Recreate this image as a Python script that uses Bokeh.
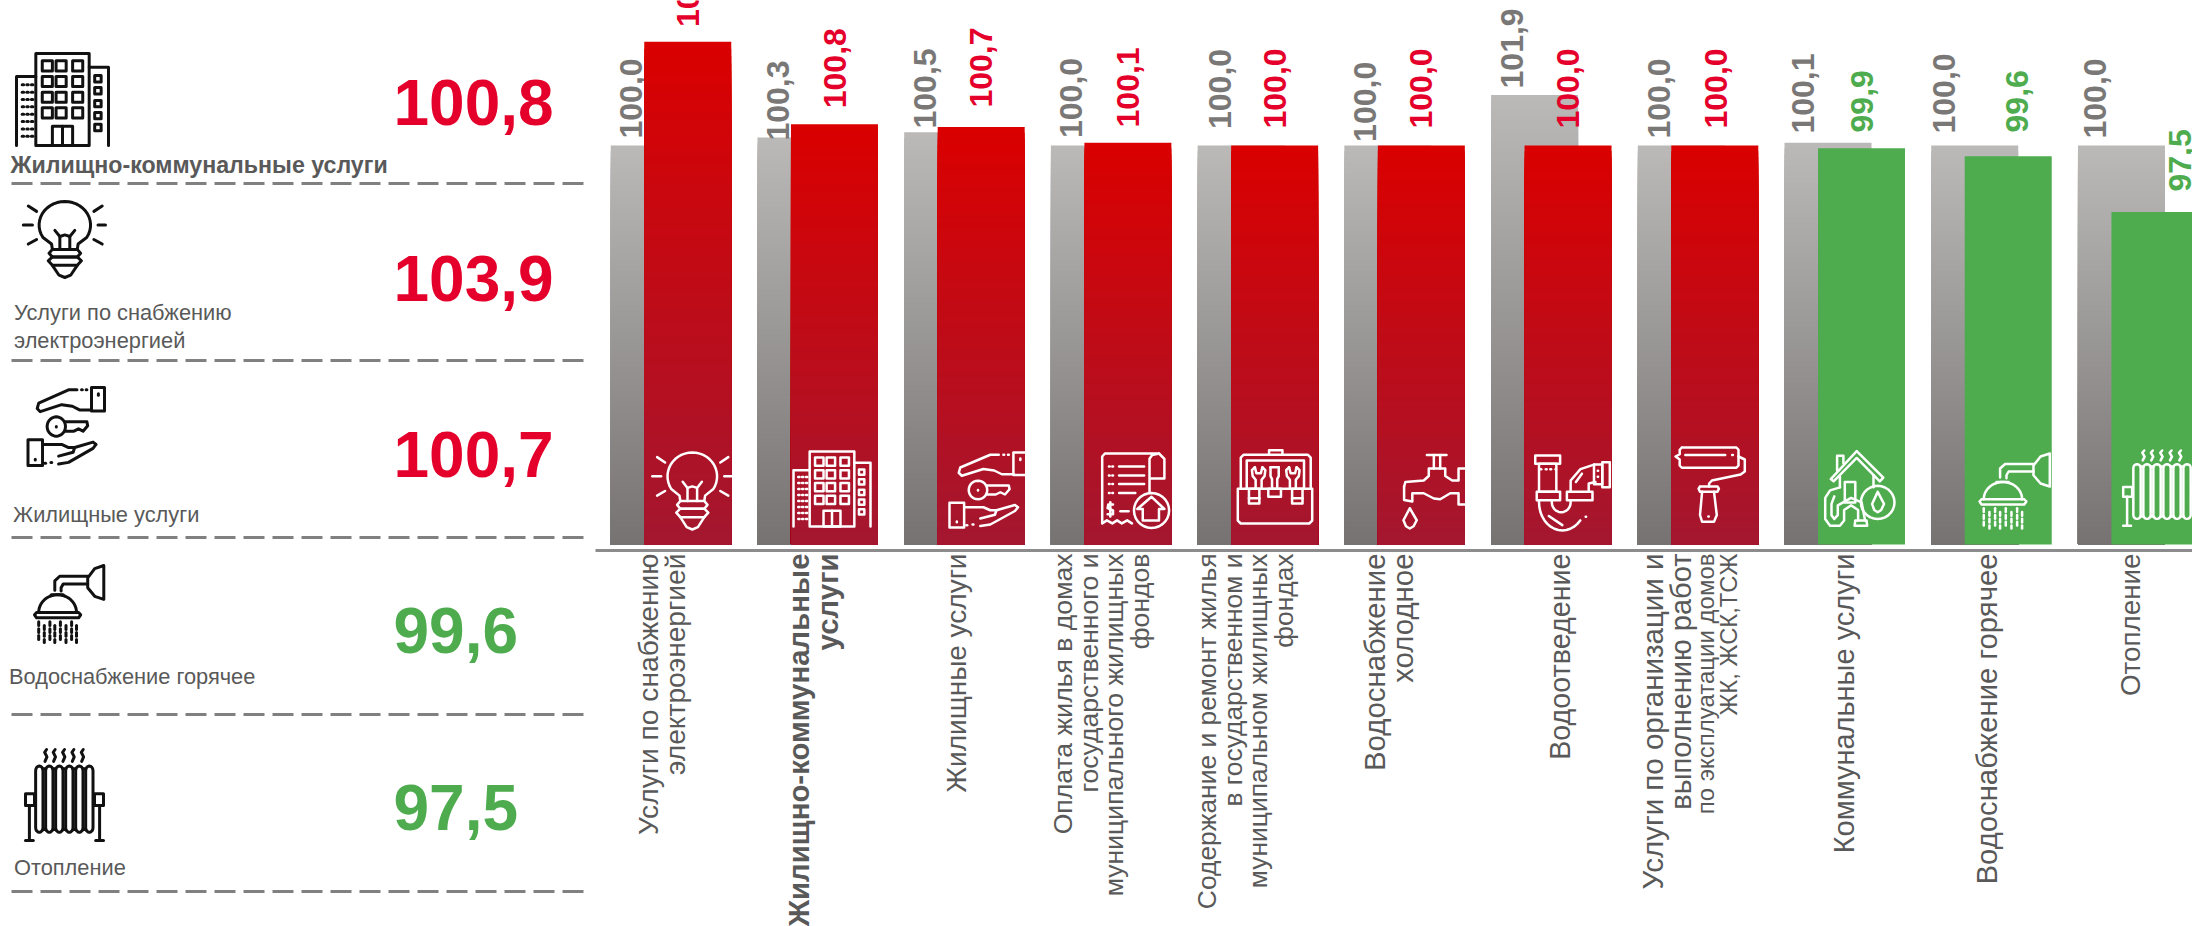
import math
from bokeh.plotting import figure
from bokeh.models import Range1d, ColumnDataSource
from bokeh.core.properties import value
from bokeh.embed import file_html
from bokeh.resources import INLINE

# ---------- data ----------
prev_values = [100.0, 100.3, 100.5, 100.0, 100.0, 100.0, 101.9, 100.0, 100.1, 100.0, 100.0]
curr_values = [103.9, 100.8, 100.7, 100.1, 100.0, 100.0, 100.0, 100.0, 99.9, 99.6, 97.5]
prev_labels = ["100,0", "100,3", "100,5", "100,0", "100,0", "100,0", "101,9", "100,0", "100,1", "100,0", "100,0"]
curr_labels = ["103,9", "100,8", "100,7", "100,1", "100,0", "100,0", "100,0", "100,0", "99,9", "99,6", "97,5"]
cat_lines = [
    ["Услуги по снабжению", "электроэнергией"],
    ["Жилищно-коммунальные", "услуги"],
    ["Жилищные услуги"],
    ["Оплата жилья в домах", "государственного и", "муниципального жилищных", "фондов"],
    ["Содержание и ремонт жилья", "в государственном и", "муниципальном жилищных", "фондах"],
    ["Водоснабжение", "холодное"],
    ["Водоотведение"],
    ["Услуги по организации и", "выполнению работ", "по эксплуатации домов", "ЖК, ЖСК,ТСЖ"],
    ["Коммунальные услуги"],
    ["Водоснабжение горячее"],
    ["Отопление"],
]
panel_names = [["Жилищно-коммунальные услуги"], ["Услуги по снабжению", "электроэнергией"], ["Жилищные услуги"], ["Водоснабжение горячее"], ["Отопление"]]
panel_values = ["100,8", "103,9", "100,7", "99,6", "97,5"]

# ---------- layout / style ----------
W, H = 2192, 926
BASE, PX100, PX_PER = 85.0, 145.0, 26.6
BASE_PX = 544.0
CAT0, CAT_STEP = 670.5, 146.72
RED, GREEN, TXT = "#E4002B", "#4EAC4F", "#595959"
GREY_LBL = "#7A7877"
FONT = value("Liberation Sans")
BASELINE_K = 0.36

prev_gap = [7, -3, 3.7, 7.5, 16.5, 3.6, 6.5, 7, 9.3, 12, 7]
prev_dx = [-23.5, -22.5, -23, -23.5, -21, -22.5, -22.5, -22.5, -25.5, -31, -26]
curr_gap = [14.7, 16, 19.3, 15.4, 17, 17, 17, 17, 15.7, 23.7, 20.5]
curr_dx = [0, 1, 0, 0, 0, 0, 0, 1, 0, 9, 25]

cat_base = [[658, 685], [809, 837.5], [966.5], [1072, 1098, 1123, 1149], [1216.5, 1242, 1267.5, 1293],
            [1385, 1413], [1569.6], [1663, 1691, 1714, 1737], [1854], [1997], [2140]]
cat_size = [[28.2, 28.2], [29.4, 29.4], [28], [26.6, 26.6, 26.6, 26.6], [26.4, 26.4, 26.4, 26.4], [29.4, 29.4], [28.7], [29.5, 29, 24, 23.8], [29], [29.3], [27.8]]
cat_bold = [False, True] + [False] * 9

p = figure(width=W, height=H, output_backend="svg", toolbar_location=None,
           x_axis_type=None, y_axis_type=None,
           x_range=Range1d(-CAT0 / CAT_STEP, (W - CAT0) / CAT_STEP),
           y_range=Range1d(BASE - (H - BASE_PX) / PX_PER, BASE + BASE_PX / PX_PER),
           min_border=0, outline_line_color=None, background_fill_color="white",
           margin=(0, 0, 0, 0))
p.grid.visible = False
p.extra_x_ranges["px"] = Range1d(0, W)
p.extra_y_ranges["px"] = Range1d(H, 0)
PX = dict(x_range_name="px", y_range_name="px")


def lerp(a, b, t):
    return "#%02x%02x%02x" % tuple(round(a[i] + (b[i] - a[i]) * t) for i in range(3))


def gradient_bars(idx, vals, dodge, top_c, bot_c, n=70):
    xs, tops, cols = [], [], []
    for k in range(n, 0, -1):
        f = k / n
        for i, v in zip(idx, vals):
            xs.append(i + dodge)
            tops.append(BASE + (v - BASE) * f)
            cols.append(lerp(bot_c, top_c, f))
    p.vbar(x=xs, top=tops, bottom=BASE, width=87 / CAT_STEP, fill_color=cols, line_color=None)


DODGE = 16.75 / CAT_STEP
idx = list(range(len(prev_values)))
gradient_bars(idx, prev_values, -DODGE, (186, 185, 183), (118, 114, 113))


def bar_labels(vals, labels, dodge, gaps, dxs, colors):
    src = ColumnDataSource(dict(x=[i + dodge for i in range(len(vals))], y=vals, t=labels,
                                xo=dxs, yo=[-g for g in gaps], c=colors))
    p.text("x", "y", text="t", x_offset="xo", y_offset="yo", source=src, angle=math.pi / 2,
           text_color="c", text_font=FONT, text_font_style="bold", text_font_size=value("32px"),
           text_align="left", text_baseline="middle")


bar_labels(prev_values, prev_labels, -DODGE, prev_gap, prev_dx, [GREY_LBL] * 11)

red_idx = [i for i, v in enumerate(curr_values) if v >= 100]
green_idx = [i for i, v in enumerate(curr_values) if v < 100]
gradient_bars(red_idx, [curr_values[i] for i in red_idx], DODGE, (218, 0, 0), (163, 23, 48))
p.vbar(x=[i + DODGE for i in green_idx], top=[curr_values[i] for i in green_idx], bottom=BASE,
       width=87 / CAT_STEP, fill_color=GREEN, line_color=None)
bar_labels(curr_values, curr_labels, DODGE, curr_gap, curr_dx,
           [RED if v >= 100 else GREEN for v in curr_values])

# axis line
p.segment([595], [550], [W], [550], line_color="#8C8C8C", line_width=3, **PX)

# category labels
for lines, bases, sizes, bold in zip(cat_lines, cat_base, cat_size, cat_bold):
    for t, b, s in zip(lines, bases, sizes):
        p.text([b - BASELINE_K * s], [553], text=[t], angle=math.pi / 2, text_color=TXT, text_font=FONT,
               text_font_style="bold" if bold else "normal", text_font_size=value(f"{s}px"),
               text_align="right", text_baseline="alphabetic", **PX)

# left panel
for y in [183, 360, 537, 714, 891]:
    p.segment([11], [y], [587], [y], line_color="#808080", line_width=3, line_dash="21 8", **PX)
val_pos = [(393, 125), (393, 301), (393, 477), (393, 653), (393, 830)]
for t, (x, y) in zip(panel_values, val_pos):
    c = GREEN if t.startswith("9") else RED
    p.text([x], [y - BASELINE_K * 64], text=[t], text_color=c, text_font=FONT, text_font_style="bold",
           text_font_size=value("64px"), text_baseline="alphabetic", **PX)
name_pos = [[(10, 173)], [(13.5, 320), (13.5, 348)], [(12.5, 522)], [(8.5, 684)], [(13.5, 875)]]
for i, (lines, pos) in enumerate(zip(panel_names, name_pos)):
    s = 23.2 if i == 0 else 21.8
    for t, (x, y) in zip(lines, pos):
        p.text([x], [y - BASELINE_K * s], text=[t], text_color=TXT, text_font=FONT,
               text_font_style="bold" if i == 0 else "normal",
               text_font_size=value(f"{s}px"), text_baseline="alphabetic", **PX)


# ---------- icons (outline shapes, in a 0..100 box) ----------
def rect(x0, y0, x1, y1):
    return [(x0, y0), (x1, y0), (x1, y1), (x0, y1), (x0, y0)]


def ell(cx, cy, rx, ry, a0=0, a1=360, n=28):
    return [(cx + rx * math.cos(math.radians(a0 + (a1 - a0) * j / n)),
             cy + ry * math.sin(math.radians(a0 + (a1 - a0) * j / n))) for j in range(n + 1)]


def building():
    o = [rect(21, 0, 79, 100), [(21, 25), (0, 25), (0, 100)], [(79, 15), (100, 15), (100, 100)]]
    for y in (8, 25, 42, 59):
        for x in (28, 43, 61):
            o.append(rect(x, y, x + 11, y + 11))
    o += [rect(39, 79, 61, 100), [(50, 79), (50, 100)]]
    for y in (24, 37, 51, 64, 77):
        o.append(rect(85, y, 92, y + 7))
    for y in (34, 42, 50, 58, 66, 74, 82, 90):
        for x in (7, 12, 17):
            o.append([(x - .8, y), (x + .8, y)])
    return o


def bulb():
    o = [[(36, 63), (35, 56)] + ell(51, 31, 31, 31, 148, 392) + [(67, 56), (66, 63)]]
    o += [[(36, 63), (66, 63), (70, 68), (66, 73), (36, 73), (32, 68), (36, 63)],
          [(36, 73), (66, 73), (71, 78), (66, 84), (36, 84), (31, 78), (36, 73)],
          [(36, 84), (44, 97), (51, 100), (58, 97), (66, 84)],
          [(39, 38), (45, 46), (45, 63)], [(63, 38), (57, 46), (57, 63)], [(45, 46), (51, 44), (57, 46)]]
    o += [[(1, 31), (12, 31)], [(91, 31), (100, 31)], [(7, 6), (17, 13)], [(86, 13), (96, 6)],
          [(7, 56), (17, 50)], [(86, 50), (96, 56)]]
    return o


def hands():
    return [[(100, 0), (83, 0), (83, 30), (100, 30), (100, 0)], [(92, 8), (92, 10)],
            [(83, 29), (68, 29), (58, 24), (44, 22), (16, 31), (12, 27), (14, 20), (53, 3), (64, 3)], [(70, 3), (71, 3)], [(76, 3), (77, 3)],
            ell(37, 50, 12, 12.4), [(37, 50), (37, 50.5)],
            [(49, 44), (77, 44), (78, 49), (72, 56), (66, 53), (60, 56), (55, 56), (49, 56)],
            rect(0, 67, 19, 100), [(9.5, 92), (9.5, 93)],
            [(19, 73), (44, 73), (53, 77), (61, 77), (85, 70), (89, 73), (85, 78), (53, 96), (40, 98)],
            [(40, 88), (59, 83), (61, 77)], [(30, 96), (31, 96)], [(22, 97), (23, 97)]]


def shower():
    o = [[(99, 0), (86, 4), (76, 16), (76, 29), (86, 40), (99, 44), (99, 0)],
         [(76, 14), (36, 14), (29, 20), (29, 32)], [(76, 24), (41, 24), (38, 29), (38, 33)],
         [(24, 38), (41, 38)], ell(33, 61, 27, 23, 180, 360),
         [(3, 61), (63, 61), (66, 64), (63, 68), (3, 68), (0, 64), (3, 61)]]
    for c, x in enumerate((6, 14, 22, 29, 37, 45, 53, 60)):
        d = 73 if c % 2 == 0 else 78
        while d < 99:
            o.append([(x, d), (x, min(d + 5, 100))])
            d += 9
    return o


def radiator():
    o = []
    for x in (26, 37, 49, 61, 73):
        o.append([(x + 1, 0), (x - 1.5, 3), (x + 1.5, 8), (x - 1, 13)])
    for k in range(6):
        x = 13 + k * 12.83
        o.append(ell(x + 4.7, 23, 4.7, 5, 180, 360, 8) + ell(x + 4.7, 85, 4.7, 5, 0, 180, 8) + [(x, 23)])
        if k < 5:
            o.append([(x + 9.4, 21), (x + 12.83, 21)])
            o.append([(x + 9.4, 87), (x + 12.83, 87)])
    o += [rect(0, 48, 11.5, 61), rect(88.5, 48, 100, 61), [(5, 61), (5, 99)], [(95, 61), (95, 99)],
          [(0, 99), (10, 99)], [(90, 99), (100, 99)]]
    return o


def document():
    o = [[(70, 51), (70, 7), (74, 2), (84, 0), (4, 0), (0, 4), (0, 92), (7, 88), (15, 92), (22, 88), (29, 92), (37, 88), (44, 92)],
         [(84, 0), (92, 7), (92, 33), (71, 33)],
         ell(73, 75, 26, 23), [(52, 73), (73, 57), (92, 73), (84, 73), (84, 88), (60, 88), (60, 73), (52, 73)]]
    for y in (17, 29, 40, 52):
        o += [[(10, y), (11, y)], [(15, y), (16, y)], [(25, y), (49 if y == 52 else 62, y)]]
    o += [[(16, 67), (9, 67), (8, 72), (16, 75), (16, 80), (8, 80)], [(12, 64), (12, 83)], [(27, 76), (39, 76)]]
    return o


def toolbox():
    o = [[(42, 7), (42, 1), (60, 1), (60, 7)], [(4, 53), (4, 11), (8, 7), (94, 7), (98, 11), (98, 53)],
         [(12, 53), (12, 15), (89, 15), (89, 53)],
         [(0, 53), (100, 53), (100, 96), (96, 100), (4, 100), (0, 96), (0, 53)]]
    for x, cx in ((28, 22), (74, 80)):
        o += [[(x - 5, 24), (x - 9, 28), (x - 8, 36), (x - 4, 41), (x - 4, 53)], [(x + 4, 53), (x + 4, 41), (x + 8, 36), (x + 9, 28), (x + 5, 24)],
              [(x - 5, 24), (x - 3, 32), (x + 3, 32), (x + 5, 24)],
              rect(cx - 7, 53, cx + 7, 73), [(cx - 7, 66), (cx + 7, 66)]]
    o += [[(44, 24), (44, 36), (46, 40), (46, 53)], [(55, 24), (55, 36), (53, 40), (53, 53)], [(44, 24), (55, 24)], rect(41, 53, 58, 64)]
    return o


def faucet():
    return [[(39, 2), (70, 2)], [(50, 2), (50, 20)], [(60, 2), (60, 20)],
            [(3, 44), (5, 38), (34, 36), (42, 30), (42, 20), (68, 20), (68, 30), (79, 36), (89, 36), (89, 20), (100, 20)],
            [(3, 44), (3, 62), (16, 64), (16, 53), (34, 53), (50, 60), (60, 61), (76, 53), (89, 53), (89, 68), (100, 68)],
            [(12, 73), (2, 89), (6, 97), (12, 100), (18, 97), (23, 89), (12, 73)]]


def pipe():
    return [rect(1, 0, 34, 11), rect(6, 11, 29, 48), rect(3, 48, 34, 59),
            [(8, 18), (9, 18)], [(15, 18), (16, 18)], [(21, 18), (22, 18)], [(28, 18), (28.5, 18)],
            [(6, 59)] + [(37 + 31 * math.cos(math.radians(180 - a)), 62 + 37 * math.sin(math.radians(a))) for a in range(0, 150, 10)],
            [(23, 59), (23, 62)] + [(35.5 + 12.5 * math.cos(math.radians(180 - a)), 62 + 13 * math.sin(math.radians(a))) for a in range(0, 181, 15)] + [(48, 59)],
            rect(43, 48, 77, 59), [(48, 48), (48, 33), (61, 18), (79, 12)], [(72, 48), (72, 37), (81, 35)],
            rect(79, 12, 90, 38), rect(90, 9, 100, 42), [(84, 20), (84.5, 20)], [(84, 28), (84.5, 28)],
            [(19, 80), (37, 92)], [(55, 35), (63, 24)], [(68, 81), (68.5, 81)]]


def roller():
    return [[(9, 0), (87, 0), (90, 3), (90, 24), (87, 27), (9, 27), (6, 24), (6, 16), (0, 12), (6, 9), (6, 3), (9, 0)],
            [(14, 10), (71, 10)], [(81, 10), (82, 10)],
            [(90, 12), (99, 16), (99, 32), (93, 36), (52, 44), (48, 48), (48, 52)],
            [(35, 52), (60, 52), (62, 55), (60, 59), (35, 59), (33, 55), (35, 52)],
            [(38, 59), (35, 90), (38, 99), (55, 99), (59, 90), (55, 59)], [(47, 92), (47.5, 92)]]


def house():
    return [[(9, 37), (46, 0), (84, 35), (79, 40), (46, 9), (13, 40), (9, 37)],
            [(18, 26), (18, 6), (27, 6), (27, 16)], [(22, 34), (22, 48)], [(70, 32), (70, 48)],
            rect(29, 41, 44, 68),
            [(22, 48), (8, 52), (1, 62), (1, 90), (8, 99), (22, 99), (28, 92), (28, 78), (38, 72), (48, 78), (48, 92)],
            [(14, 60), (10, 70), (10, 85), (14, 90), (19, 85), (19, 72), (38, 62), (53, 68), (58, 92)],
            [(44, 92), (60, 92), (61, 99), (43, 99), (44, 92)],
            ell(76, 68, 24, 22), [(76, 54), (68, 70), (71, 78), (76, 81), (81, 78), (85, 70), (76, 54)]]


# box: (x0, y0, x1, y1) in page pixels
dark_icons = [(building, (16, 53, 108, 145)), (bulb, (22, 201, 105, 277)), (hands, (27.5, 387, 104, 465)),
              (shower, (34, 565, 104, 642)), (radiator, (25, 749, 103, 841))]
light_icons = [(bulb, (651, 452, 731, 529)), (building, (793, 451, 870, 526)), (hands, (949, 452, 1026, 527)),
               (document, (1101.7, 453, 1169.3, 529)), (toolbox, (1237.3, 449, 1311.7, 523)), (faucet, (1401.7, 453, 1465, 528)),
               (pipe, (1534, 455, 1609.3, 530.7)), (roller, (1675, 447, 1745, 522)), (house, (1824, 450.7, 1894, 526)),
               (shower, (1979, 453, 2050, 528)), (radiator, (2122.7, 450, 2200.7, 526))]


def draw_icons(icons, color, width):
    xs, ys = [], []
    for fn, (x0, y0, x1, y1) in icons:
        for path in fn():
            xs.append([x0 + px * (x1 - x0) / 100 for px, _ in path])
            ys.append([y0 + py * (y1 - y0) / 100 for _, py in path])
    p.multi_line(xs, ys, line_color=color, line_width=width, line_join="round", line_cap="round", **PX)


draw_icons(dark_icons, "#111111", 3.0)
draw_icons(light_icons, "#FFFFFF", 2.5)

open("out.html", "w").write(file_html(p, INLINE))
